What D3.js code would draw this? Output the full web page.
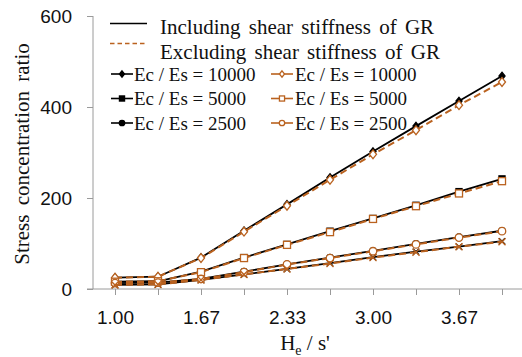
<!DOCTYPE html>
<html><head><meta charset="utf-8">
<script src="https://cdn.jsdelivr.net/npm/d3@7"></script>
<style>body{margin:0;background:#fff}svg{display:block}</style>
</head><body>
<svg id="c" width="522" height="357"></svg>
<script>
const categories = ["1.00","1.33","1.67","2.00","2.33","2.67","3.00","3.33","3.67","4.00"];
const tickLabels = ["1.00","1.67","2.33","3.00","3.67"];
const yTicks = [0,200,400,600];
const inc10000 = [25, 27, 69, 128, 186, 245, 302, 358, 413, 468];
const exc10000 = [25, 27, 68, 126, 183, 240, 296, 349, 404, 455];
const inc5000  = [16, 17, 38, 69, 98, 127, 155, 184, 214, 242];
const exc5000  = [16, 17, 37, 68, 97, 125, 154, 182, 210, 237];
const inc2500  = [13, 14, 22, 38, 54, 69, 84, 99, 114, 128];
const exc2500  = [13, 14, 22, 37, 54, 68, 83, 98, 113, 127];
const incX     = [9, 10, 20, 32, 44, 57, 70, 82, 93, 105];
const excX     = [9, 10, 20, 32, 44, 56, 69, 81, 93, 104];
const legendTop = ["Including shear stiffness of GR","Excluding shear stiffness of GR"];
const legendRows = ["Ec / Es = 10000","Ec / Es = 5000","Ec / Es = 2500"];

const BROWN = "#BA621F";
const SERIF = "'Liberation Serif', 'Times New Roman', serif";
const SANS = "'Liberation Sans', Arial, sans-serif";
const svg = d3.select("#c");
svg.append("rect").attr("width",522).attr("height",357).attr("fill","#fff");

const x = d3.scalePoint().domain(categories).range([115, 502]);
const y = d3.scaleLinear().domain([0,600]).range([289, 16]);

// axes
const yAxis = svg.append("g").attr("transform","translate(93,0)")
  .call(d3.axisLeft(y).tickValues(yTicks).tickSize(6).tickPadding(15).tickFormat(d3.format("d")));
yAxis.select(".domain").attr("stroke","#9a9a9a").attr("d","M0,16V289");
yAxis.selectAll(".tick line").attr("stroke","#9a9a9a");
yAxis.selectAll("text").attr("font-family",SANS).attr("font-size",19).attr("fill","#111");

const xAxis = svg.append("g").attr("transform","translate(0,289)")
  .call(d3.axisBottom(x).tickSize(6).tickPadding(16).tickFormat(d => tickLabels.includes(d) ? d : ""));
xAxis.select(".domain").attr("stroke","#9a9a9a").attr("d","M87,0H522");
xAxis.selectAll(".tick line").attr("stroke","#9a9a9a");
xAxis.selectAll("text").attr("font-family",SANS).attr("font-size",19).attr("fill","#111");

// titles
svg.append("text").attr("transform","translate(29,154) rotate(-90)")
  .attr("text-anchor","middle").attr("font-family",SERIF)
  .attr("font-size",21).attr("word-spacing",4).attr("fill","#111").text("Stress concentration ratio");
const xt = svg.append("text").attr("x",305).attr("y",350).attr("text-anchor","middle")
  .attr("font-family",SERIF).attr("font-size",21).attr("fill","#111");
xt.append("tspan").text("H");
xt.append("tspan").attr("font-size",14).attr("dy",5).text("e");
xt.append("tspan").attr("dy",-5).text(" / s'");

// markers
const xPath = s => `M${-s},${-s}L${s},${s}M${-s},${s}L${s},${-s}`;
function marker(g, type, cx, cy, filled, color, s) {
  if (type === "diamond") {
    g.append("path").attr("transform",`translate(${cx},${cy})`)
      .attr("d",`M0,${-s}L${s*0.8},0L0,${s}L${-s*0.8},0Z`)
      .attr("fill", filled ? color : "#fff").attr("stroke",color).attr("stroke-width",1.3);
  } else if (type === "square") {
    g.append("rect").attr("x",cx-s*0.8).attr("y",cy-s*0.8).attr("width",s*1.6).attr("height",s*1.6)
      .attr("fill", filled ? color : "#fff").attr("stroke",color).attr("stroke-width",1.3);
  } else if (type === "circle") {
    g.append("circle").attr("cx",cx).attr("cy",cy).attr("r",s*0.85)
      .attr("fill", filled ? color : "#fff").attr("stroke",color).attr("stroke-width",1.3);
  } else {
    g.append("path").attr("transform",`translate(${cx},${cy})`).attr("d",xPath(s*0.8))
      .attr("fill","none").attr("stroke",color).attr("stroke-width",1.4);
  }
}

const line = d3.line().x((d,i) => x(categories[i])).y(d => y(d));
const series = [
  {v: inc10000, t:"diamond", inc:true}, {v: inc5000, t:"square", inc:true},
  {v: inc2500, t:"circle", inc:true}, {v: incX, t:"x", inc:true},
  {v: exc10000, t:"diamond", inc:false}, {v: exc5000, t:"square", inc:false},
  {v: exc2500, t:"circle", inc:false}, {v: excX, t:"x", inc:false}
];
const plot = svg.append("g");
series.forEach(s => {
  const g = plot.append("g");
  g.append("path").attr("d", line(s.v)).attr("fill","none")
    .attr("stroke", s.inc ? "#000" : BROWN).attr("stroke-width", s.inc ? 1.8 : 2)
    .attr("stroke-dasharray", s.inc ? null : "7,4");
  s.v.forEach((d,i) => marker(g, s.t, x(categories[i]), y(d), s.inc, s.inc ? "#000" : BROWN, s.inc ? 3.8 : 4.4));
});

// legend
const lg = svg.append("g");
lg.append("line").attr("x1",110).attr("x2",147).attr("y1",23.5).attr("y2",23.5).attr("stroke","#000").attr("stroke-width",1.5);
lg.append("line").attr("x1",110).attr("x2",147).attr("y1",43.5).attr("y2",43.5).attr("stroke",BROWN).attr("stroke-width",1.5).attr("stroke-dasharray","4.5,3");
legendTop.forEach((t,i) => lg.append("text").attr("x",160).attr("y",34 + i*25)
  .attr("font-family",SERIF).attr("fill","#111").attr("font-size",21).attr("word-spacing",3).text(t));
const types = ["diamond","square","circle"];
legendRows.forEach((t,i) => {
  const cy = 74 + i*24.5;
  lg.append("line").attr("x1",111).attr("x2",133).attr("y1",cy).attr("y2",cy).attr("stroke","#000").attr("stroke-width",1.6);
  marker(lg, types[i], 122, cy, true, "#000", 3.2);
  lg.append("text").attr("x",134).attr("y",cy+6.5).attr("font-family",SERIF).attr("fill","#111").attr("font-size",19).text(t);
  lg.append("line").attr("x1",271).attr("x2",293).attr("y1",cy).attr("y2",cy).attr("stroke",BROWN).attr("stroke-width",1.6);
  marker(lg, types[i], 282, cy, false, BROWN, 3.2);
  lg.append("text").attr("x",295).attr("y",cy+6.5).attr("font-family",SERIF).attr("fill","#111").attr("font-size",19).text(t);
});
</script>
</body></html>
